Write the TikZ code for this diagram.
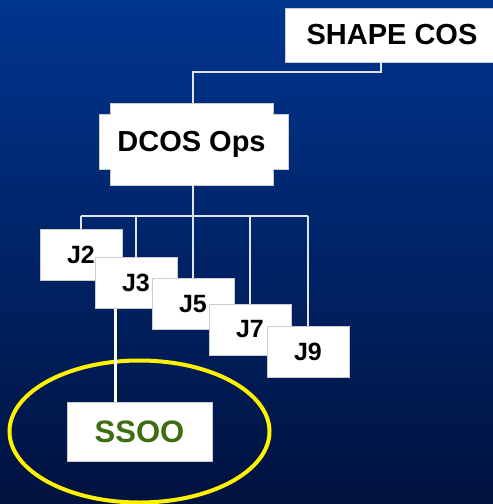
\documentclass[tikz,border=0pt]{standalone}
\usepackage{fontspec}
\setmainfont{Liberation Sans}
\usepackage{tikz}
\usetikzlibrary{calc}
\definecolor{bgtop}{HTML}{00358F}
\definecolor{bgbot}{HTML}{00123F}
\definecolor{ssgreen}{HTML}{3F6E12}
\definecolor{wire}{HTML}{E2E4EC}
\tikzstyle{plate}=[fill=white,draw=black!20,thin]
\tikzstyle{unit}=[fill=white,draw=black!20,thin,inner sep=0,text=black,
  font=\bfseries\fontsize{25}{28}\selectfont,minimum width=82pt,minimum height=51pt]
\tikzstyle{head}=[unit,font=\bfseries\fontsize{29}{32}\selectfont]
\tikzstyle{link}=[draw=wire,line width=2pt]
\tikzstyle{ring}=[draw=yellow,line width=4pt]

\begin{document}
\begin{tikzpicture}[x=1pt,y=-1pt]
	\useasboundingbox (0,0) rectangle (493,504);
	\shade[top color=bgtop,bottom color=bgbot] (0,0) rectangle (493,504);
	
	\coordinate (kn) at (193,72);
	\coordinate (bus) at (193,216);
	
	\node[head,minimum width=214pt,minimum height=54pt] (sc) at (392,35) {SHAPE COS};
	
	\path[plate] (110,103) -- (273,103) -- (273,114) -- (288,114) -- (288,169)
	  -- (273,169) -- (273,185) -- (110,185) -- (110,169) -- (99,169)
	  -- (99,114) -- (110,114) -- cycle;
	\node[head,draw=none,fill=none,minimum width=163pt,minimum height=82pt] (do) at (191.5,144) {DCOS Ops};
	
	\node[unit,fill=none,draw=none] (j2) at (81,254.5) {};
	\node[unit,fill=none,draw=none] (j3) at (136,282.5) {};
	\node[unit,fill=none,draw=none] (j5) at (193,304) {};
	\node[unit,fill=none,draw=none] (j7) at (250,329.5) {};
	\node[unit,fill=none,draw=none] (j9) at (308,351.5) {};
	\node[unit,minimum width=145pt,minimum height=59pt,text=ssgreen,
	  font=\bfseries\fontsize{31}{34}\selectfont,fill=none,draw=none] (ss) at (139.5,431.5) {};
	
	\draw[ring] (ss.center) ellipse (130 and 71);
	
	\draw[link] (sc.south west) ++(96,0) |- (kn) -- (kn |- do.north);
	\draw[link] (kn |- do.south) -- (bus);
	\draw[link] (j2.north |- bus) -- (j9.north |- bus);
	\foreach \j in {j2,j3,j5,j7,j9}
		\draw[link] (\j.north |- bus) -- (\j.north);
	\draw[link,draw=white,line width=3pt] ($(j3.south west)+(21,0)$) -- ($(ss.north west)+(49,0)$);
	
	\node[unit] at (j2) {J2};
	\node[unit] at (j3) {J3};
	\node[unit] at (j5) {J5};
	\node[unit] at (j7) {J7};
	\node[unit] at (j9) {J9};
	\node[unit,minimum width=145pt,minimum height=59pt,text=ssgreen,
	  font=\bfseries\fontsize{31}{34}\selectfont] at (ss) {SSOO};
\end{tikzpicture}
\end{document}
